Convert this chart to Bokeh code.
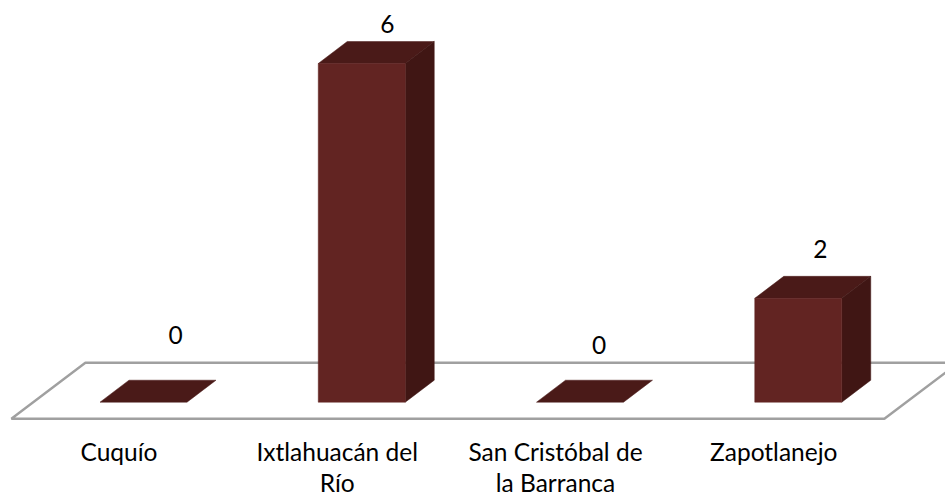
from bokeh.plotting import figure
from bokeh.models import ColumnDataSource, Range1d
from bokeh.core.properties import value
from bokeh.embed import file_html
from bokeh.resources import INLINE

# Data
categories = ["Cuquío", "Ixtlahuacán del", "San Cristóbal de", "Zapotlanejo"]
second_lines = ["", "Río", "la Barranca", ""]
values = [0, 6, 0, 2]                 # printed labels
drawn_heights = [0, 6, 0, 1.84]       # bar heights (the 3-D view is not to scale)

W, H = 945, 493
PX_X = 218.25    # pixels per category
PX_Y = 56.45     # pixels per value unit
FONT = "Lato"
FS = "24.5px"
INK = "#000000"
FRONT, TOP, SIDE = "#622422", "#4a1a18", "#401614"
FLOOR = "#a0a0a0"

# 3-D view, in data units
bar_w = 87 / PX_X
bar_shift = 23 / PX_X
dep_x, dep_y = 29 / PX_X, 22 / PX_Y
floor_dx, floor_y0, floor_y1 = 74 / PX_X, -16.6 / PX_Y, 39.4 / PX_Y

x0 = -120 / PX_X
y0 = (401.7 - H) / PX_Y
p = figure(width=W, height=H, output_backend="svg", toolbar_location=None,
           x_range=Range1d(x0, x0 + W / PX_X), y_range=Range1d(y0, y0 + H / PX_Y),
           min_border=0, outline_line_color=None)
p.grid.visible = False
p.xaxis.visible = False
p.yaxis.visible = False

n = len(categories)
# Floor
p.patch([-0.5, n - 0.5, n - 0.5 + floor_dx, -0.5 + floor_dx],
        [floor_y0, floor_y0, floor_y1, floor_y1],
        fill_color="#ffffff", line_color=FLOOR, line_width=2.4)

# Bars
for i, h in enumerate(drawn_heights):
    l = i + bar_shift - bar_w / 2
    r = l + bar_w
    p.patch([l, r, r + dep_x, l + dep_x], [h, h, h + dep_y, h + dep_y], fill_color=TOP, line_color=TOP, line_width=0.5)
    if h > 0:
        p.patch([r, r + dep_x, r + dep_x, r], [0, dep_y, h + dep_y, h], fill_color=SIDE, line_color=SIDE, line_width=0.5)
        p.patch([l, r, r, l], [0, 0, h, h], fill_color=FRONT, line_color=FRONT, line_width=0.5)

# Value labels (hand-placed in the original)
src = ColumnDataSource(dict(
    x=[i + bar_shift for i in range(n)], y=drawn_heights,
    t=[str(v) for v in values],
    dx=[32, 25.5, 19, 22], dy=[-67, -40, -57, -49]))
p.text("x", "y", text="t", source=src, x_offset="dx", y_offset="dy",
       text_font=value(FONT), text_font_size=FS, text_color=INK,
       text_align="center", text_baseline="alphabetic")

# Category labels
for lines, off in ((categories, 33), (second_lines, 64)):
    keep = [i for i, t in enumerate(lines) if t]
    s = ColumnDataSource(dict(x=keep, y=[floor_y0] * len(keep), t=[lines[i] for i in keep]))
    p.text("x", "y", text="t", source=s, x_offset=-1.5, y_offset=off,
           text_font=value(FONT), text_font_size=FS, text_color=INK,
           text_align="center", text_baseline="alphabetic")

open("out.html", "w").write(file_html(p, INLINE))
